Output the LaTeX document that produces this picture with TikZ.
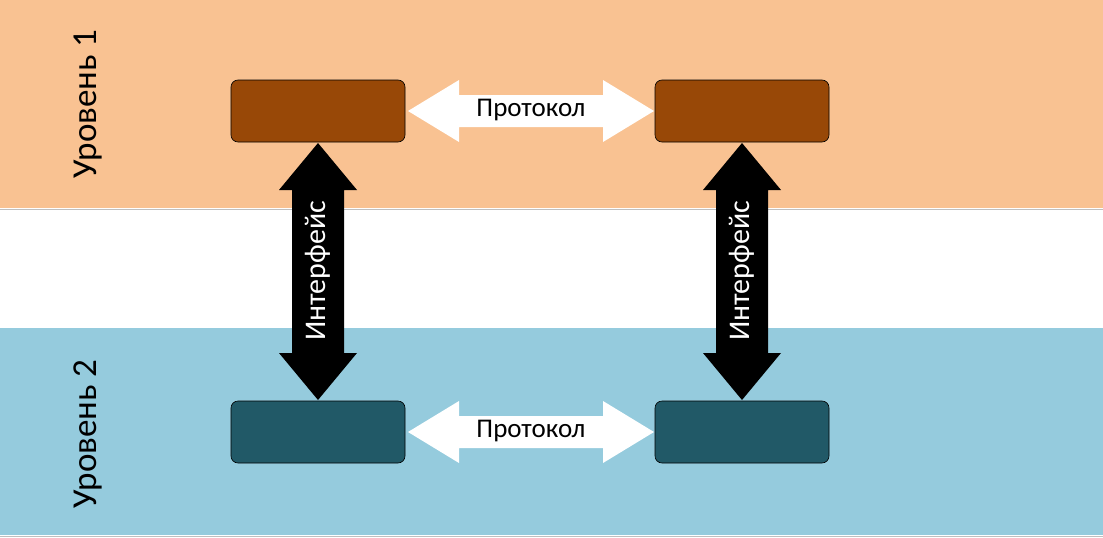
\documentclass[tikz,border=0pt]{standalone}
\usepackage{fontspec}
\setmainfont{Carlito}
\definecolor{org}{HTML}{F9C292}
\definecolor{blu}{HTML}{95CBDD}
\definecolor{brn}{HTML}{984807}
\definecolor{tea}{HTML}{215967}
\begin{document}
\begin{tikzpicture}[x=1pt,y=-1pt,
 box/.style={rounded corners=7pt,draw=black,line width=0.6pt},
 lvl/.style={rotate=90,font=\fontsize{35}{40}\selectfont},
 lbl/.style={font=\fontsize{27}{30}\selectfont}]
\useasboundingbox (0,0) rectangle (1103,538);
\fill[white] (0,0) rectangle (1103,538);
\fill[org] (0,0) rectangle (1103,208);
\fill[blu] (0,328) rectangle (1103,535);
\draw[gray!50,line width=1pt] (0,209) -- (1103,209);
\draw[gray!50,line width=1pt] (0,536) -- (1103,536);
\node[lvl] (l1) at (88,104) {Уровень 1};
\node[lvl] (l2) at (88,434) {Уровень 2};
\node[box,fill=brn,minimum width=174pt,minimum height=62pt] (a) at (318,111) {};
\node[box,fill=brn,minimum width=174pt,minimum height=62pt] (b) at (742,111) {};
\node[box,fill=tea,minimum width=174pt,minimum height=62pt] (c) at (318,432) {};
\node[box,fill=tea,minimum width=174pt,minimum height=62pt] (d) at (742,432) {};
\foreach \y/\n in {111/p1,432/p2}{
 \fill[white] (408,\y) -- (459,\y-31) -- (459,\y-16) -- (603,\y-16) -- (603,\y-31) -- (654,\y) -- (603,\y+31) -- (603,\y+16) -- (459,\y+16) -- (459,\y+31) -- cycle;
 \node[lbl] (\n) at (531,\y-1) {Протокол};
}
\foreach \x/\n in {318/i1,742/i2}{
 \fill[black] (\x,143) -- (\x+39,190) -- (\x+26,190) -- (\x+26,353) -- (\x+39,353) -- (\x,400) -- (\x-39,353) -- (\x-26,353) -- (\x-26,190) -- (\x-39,190) -- cycle;
 \node[lbl,text=white,rotate=90,font=\fontsize{30}{34}\selectfont] (\n) at (\x,271) {Интерфейс};
}
\end{tikzpicture}
\end{document}
